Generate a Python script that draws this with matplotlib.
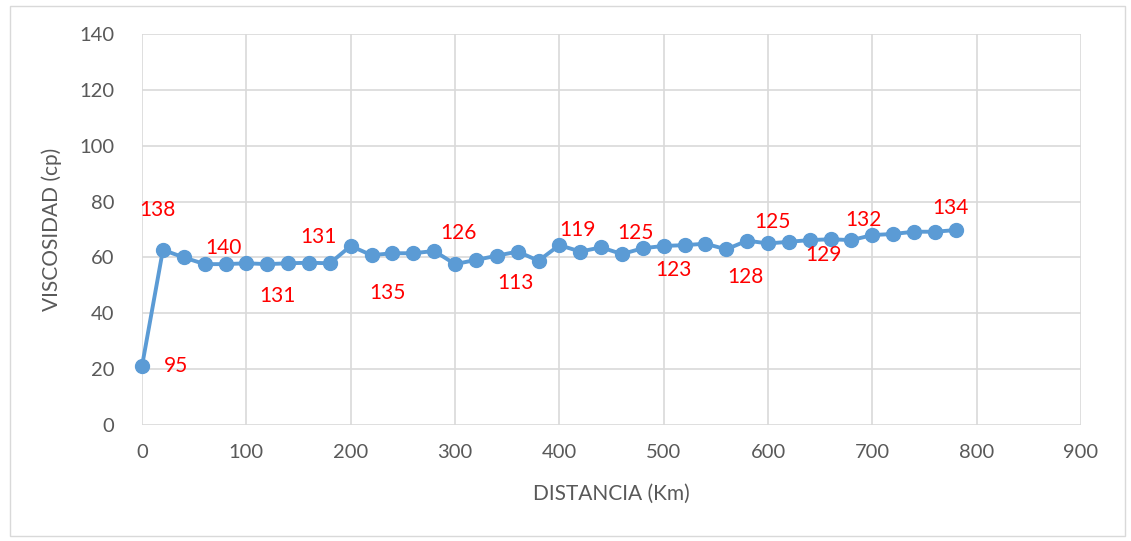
import matplotlib.pyplot as plt
from matplotlib.patches import Rectangle

# distancia (km) y viscosidad (cp)
distancia = [0, 20, 40, 60, 80, 100, 120, 140, 160, 180,
             200, 220, 240, 260, 280, 300, 320, 340, 360, 380,
             400, 420, 440, 460, 480, 500, 520, 540, 560, 580,
             600, 620, 640, 660, 680, 700, 720, 740, 760, 780]
viscosidad = [21.2, 62.7, 60.0, 57.6, 57.6, 57.9, 57.6, 57.9, 58.1, 57.9,
              64.1, 60.8, 61.5, 61.5, 62.3, 57.6, 59.1, 60.6, 62.1, 58.8,
              64.4, 62.1, 63.6, 61.2, 63.3, 64.1, 64.4, 64.9, 62.9, 66.0,
              65.0, 65.6, 66.2, 66.5, 66.2, 68.0, 68.4, 69.2, 69.2, 69.8]

# etiquetas rojas
etiqueta_txt = ["138", "95", "140", "131", "131", "135", "126", "113",
                "119", "125", "123", "128", "125", "129", "132", "134"]
etiqueta_x = [14.4, 32.6, 77.6, 129.4, 168.7, 234.8, 302.9, 357.5,
              416.9, 472.5, 509.0, 578.0, 603.8, 652.7, 691.0, 774.5]
etiqueta_y = [77.0, 21.1, 63.4, 46.2, 67.3, 47.3, 68.7, 50.8,
              69.8, 68.7, 55.5, 53.0, 72.7, 60.9, 73.4, 77.7]

plt.rcParams['font.family'] = ['Lato', 'DejaVu Sans']

fig = plt.figure(figsize=(11.31, 5.41), dpi=100)
ax = fig.add_axes([0.1256, 0.2144, 0.8302, 0.7228])

ax.plot(distancia, viscosidad, color="#5B9BD5", lw=2.8, marker="o",
        markersize=10, zorder=3, clip_on=False)

for t, x, y in zip(etiqueta_txt, etiqueta_x, etiqueta_y):
    ax.text(x, y, t, color="red", fontsize=15, ha="center", va="center", zorder=4)

ax.set_xlim(0, 900)
ax.set_ylim(0, 140)
ax.set_xticks(range(0, 901, 100))
ax.set_yticks(range(0, 141, 20))
ax.grid(True, color="#D9D9D9", lw=1.2)
ax.set_axisbelow(True)
for s in ax.spines.values():
    s.set_visible(False)
ax.tick_params(length=0, labelsize=14.5, labelcolor="#595959")
ax.tick_params(axis="x", pad=14)
ax.tick_params(axis="y", pad=20)

ax.set_xlabel("DISTANCIA (Km)", fontsize=15, color="#595959", labelpad=16)
ax.set_ylabel("VISCOSIDAD (cp)", fontsize=15, color="#595959", labelpad=12)

fig.patches.append(Rectangle((0.009, 0.01), 0.986, 0.979, transform=fig.transFigure,
                             fill=False, edgecolor="#D9D9D9", lw=1))

fig.savefig("out.png", dpi=100)
